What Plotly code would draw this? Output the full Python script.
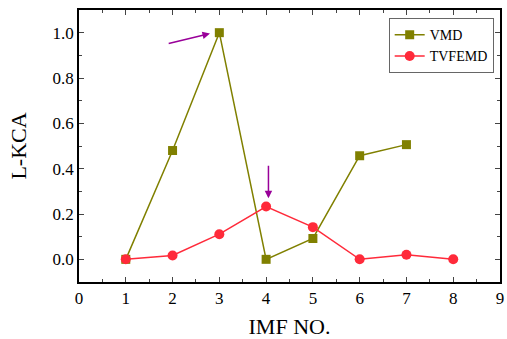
import plotly.graph_objects as go

imf_vmd = [1, 2, 3, 4, 5, 6, 7]
vmd = [0.0, 0.48, 1.0, 0.0, 0.092, 0.457, 0.506]
imf_tvf = [1, 2, 3, 4, 5, 6, 7, 8]
tvfemd = [0.0, 0.017, 0.111, 0.233, 0.142, 0.0, 0.02, 0.0]

x_ticks = list(range(0, 10))
y_ticks = [0.0, 0.2, 0.4, 0.6, 0.8, 1.0]
y_tick_labels = ["0.0", "0.2", "0.4", "0.6", "0.8", "1.0"]

serif = "Liberation Serif"
fig = go.Figure()
fig.add_trace(go.Scatter(x=imf_vmd, y=vmd, mode="lines+markers", name="VMD",
                         line=dict(color="#808000", width=1.5),
                         marker=dict(symbol="square", size=9, color="#808000")))
fig.add_trace(go.Scatter(x=imf_tvf, y=tvfemd, mode="lines+markers", name="TVFEMD",
                         line=dict(color="#FF2A3A", width=1.5),
                         marker=dict(symbol="circle", size=10, color="#FF2A3A")))

arrow_col = "#990099"
fig.add_annotation(x=2.8, y=0.996, ax=1.885, ay=0.951, xref="x", yref="y", axref="x", ayref="y",
                   showarrow=True, arrowhead=2, arrowsize=1, arrowwidth=1.5, arrowcolor=arrow_col, text="")
fig.add_annotation(x=4.05, y=0.27, ax=4.05, ay=0.42, xref="x", yref="y", axref="x", ayref="y",
                   showarrow=True, arrowhead=2, arrowsize=1, arrowwidth=1.5, arrowcolor=arrow_col, text="")

fig.update_layout(
    width=507, height=339,
    margin=dict(l=79, r=3, t=10, b=57),
    paper_bgcolor="white", plot_bgcolor="white",
    font=dict(family=serif, color="black", size=16),
    showlegend=True,
    legend=dict(x=0.985, y=0.97, xanchor="right", yanchor="top",
                bordercolor="#666", borderwidth=1, bgcolor="white",
                font=dict(family=serif, size=14), tracegroupgap=0,
                itemwidth=30),
    xaxis=dict(range=[0, 9], tickvals=x_ticks, ticks="inside", ticklen=5, tickwidth=1.2,
               showline=True, linecolor="black", linewidth=1.5, mirror="ticks",
               showgrid=False, zeroline=False,
               minor=dict(ticks="inside", dtick=0.5, ticklen=3, tickwidth=1.2),
               title=dict(text="IMF NO.", font=dict(size=22, family=serif), standoff=12),
               tickfont=dict(size=17, family=serif)),
    yaxis=dict(range=[-0.1, 1.1], tickvals=y_ticks, ticktext=y_tick_labels, ticks="inside",
               ticklen=5, tickwidth=1.2,
               showline=True, linecolor="black", linewidth=1.5, mirror="ticks",
               showgrid=False, zeroline=False,
               minor=dict(ticks="inside", dtick=0.1, ticklen=3, tickwidth=1.2),
               title=dict(text="L-KCA", font=dict(size=22, family=serif), standoff=20),
               tickfont=dict(size=17, family=serif)),
)
fig.write_html("out.html")
